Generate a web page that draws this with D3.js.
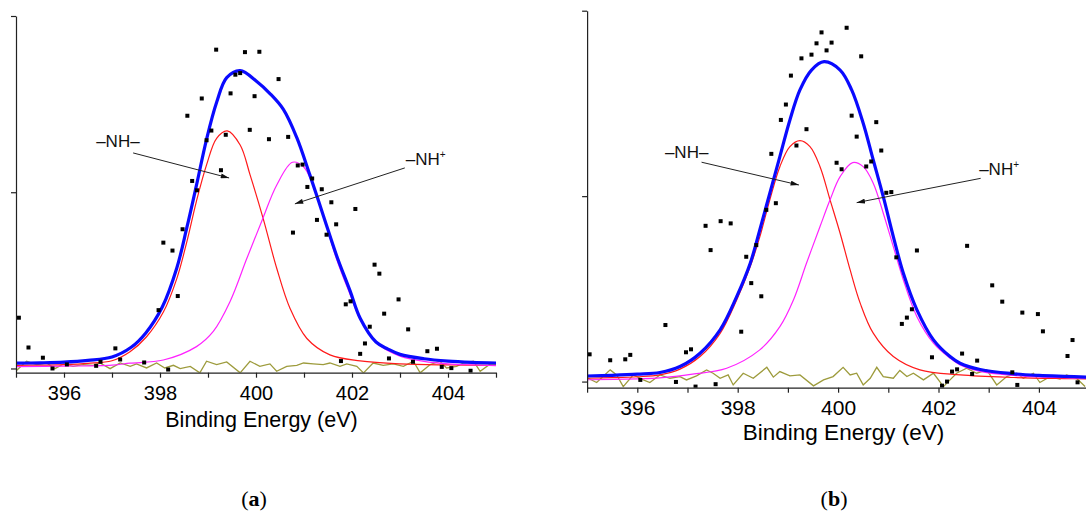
<!DOCTYPE html>
<html>
<head>
<meta charset="utf-8">
<script src="https://cdn.jsdelivr.net/npm/d3@7"></script>
<style>
  body { margin: 0; background: #fff; }
  svg { display: block; }
</style>
</head>
<body>
<script>
// N 1s spectra, [binding energy (eV), intensity (a.u.)]
// panel (a)
const aPoints = [[395.06,28.8],[395.26,11.9],[395.56,6.1],[395.76,0.0],[396.06,2.3],[396.67,1.5],[396.76,3.8],
  [397.07,11.4],[397.17,5.1],[397.67,3.4],[397.97,33.1],[398.07,71.4],[398.17,-0.6],[398.26,66.9],[398.37,41.1],
  [398.47,79.0],[398.57,143.4],[398.67,106.4],[398.77,101.1],[398.87,153.2],[398.97,129.5],[399.07,135.0],
  [399.17,180.9],[399.27,112.5],[399.37,132.6],[399.47,156.1],[399.57,166.7],[399.67,167.6],[399.77,179.5],
  [399.87,135.4],[399.97,154.5],[400.07,179.7],[400.27,130.1],[400.47,164.2],[400.67,131.4],[400.77,77.1],
  [400.87,115.2],[400.97,115.7],[401.07,103.0],[401.17,107.8],[401.27,84.3],[401.37,101.7],[401.47,75.9],
  [401.57,94.3],[401.67,81.8],[401.77,4.2],[401.87,36.4],[401.97,38.1],[402.07,90.5],[402.17,8.3],[402.27,14.2],
  [402.37,23.7],[402.47,58.9],[402.57,53.8],[402.67,31.1],[402.77,5.7],[402.97,39.2],[403.17,22.2],[403.27,3.8],
  [403.57,9.8],[403.77,11.2],[403.87,0.9],[404.07,0.2],[404.47,-1.3]];
const aTotal = [[395,3.0],[395.5,3.2],[396,3.6],[396.5,4.6],[397,6.5],[397.4,12],[397.7,20],[398.05,35],[398.35,57],
  [398.56,80],[398.76,104],[398.97,130],[399.18,151],[399.39,165],[399.67,169],[400.01,163],[400.29,156],
  [400.57,147],[400.85,131],[401.12,110],[401.4,87],[401.68,64],[401.96,44],[402.17,28.5],[402.5,15],[402.75,11],
  [403,8],[403.5,5.5],[404,4.2],[404.5,3.5],[405,3.1]];
const aNH = [[395,1.8],[395.5,1.9],[396,2.2],[396.5,2.9],[397,4.4],[397.375,9.5],[397.72,18],[398.07,32],
  [398.35,51],[398.56,72],[398.76,95],[398.97,115.5],[399.18,130.6],[399.4,134.8],[399.67,126.8],[399.875,110],
  [400.15,85],[400.43,57],[400.71,34],[401.06,17],[401.54,7.7],[402.17,4.3],[403,2.6],[404,2.0],[405,1.8]];
const aNHplus = [[395,1.0],[396,1.3],[397,1.9],[397.375,3.0],[398.07,4.8],[398.76,12.4],[399.11,21],[399.46,38],
  [399.81,62.5],[400.14,85],[400.43,104],[400.76,117],[400.99,114.5],[401.19,104],[401.4,87],[401.68,62],
  [401.96,42],[402.17,28],[402.5,15],[402.75,10],[403,7],[403.5,4],[404,2.6],[404.5,2.0],[405,1.6]];
const aResid = [[395.01,-1.2],[395.22,4.1],[395.43,2.2],[395.64,3.1],[395.81,-0.1],[395.99,2.6],[396.19,1.2],
  [396.40,2.2],[396.61,1.8],[396.75,3.1],[396.96,-0.1],[397.17,3.1],[397.38,1.2],[397.51,2.6],[397.72,0.3],
  [397.93,3.1],[398.10,0.3],[398.28,1.8],[398.42,-0.1],[398.63,1.2],[398.83,-2.5],[398.97,4.1],[399.18,2.2],
  [399.39,3.7],[399.67,-2.5],[399.875,4.1],[400.08,1.2],[400.29,2.6],[400.43,-1.6],[400.64,1.2],[400.85,1.8],
  [400.99,3.1],[401.19,2.6],[401.40,2.2],[401.54,3.1],[401.75,1.2],[401.89,2.6],[402.10,1.2],[402.24,-2.5],
  [402.44,3.1],[402.65,1.8],[402.86,2.6],[403.07,1.2],[403.28,4.1],[403.42,-2.5],[403.63,2.2],[403.83,4.1],
  [403.97,0.3],[404.18,1.2],[404.32,3.1],[404.53,4.1],[404.67,-1.6],[404.88,2.6],[405.08,2.2]];

// panel (b)
const bPoints = [[395.05,14.7],[395.46,11.5],[395.76,12.0],[395.86,14.4],[396.06,0.9],[396.56,30.5],[396.77,-0.2],
  [396.97,15.8],[397.07,17.4],[397.16,-2.7],[397.36,84.0],[397.46,70.9],[397.56,-1.4],[397.66,86.5],[397.86,85.3],
  [398.07,26.9],[398.17,67.3],[398.27,53.1],[398.37,73.6],[398.47,46.0],[398.57,92.6],[398.67,122.8],[398.76,96.2],
  [398.86,141.1],[398.96,149.4],[399.06,165.0],[399.17,127.3],[399.27,174.3],[399.37,136.1],[399.47,176.3],
  [399.57,182.4],[399.67,188.3],[399.77,178.6],[399.87,182.8],[399.97,118.0],[400.07,114.5],[400.17,190.8],
  [400.27,143.4],[400.37,132.1],[400.46,175.4],[400.56,116.0],[400.66,118.7],[400.76,139.9],[400.86,124.6],
  [400.96,101.8],[401.06,102.2],[401.16,67.0],[401.27,31.1],[401.37,34.5],[401.47,39.0],[401.57,70.7],
  [401.87,13.1],[402.07,-2.2],[402.17,0.0],[402.27,5.4],[402.37,6.6],[402.47,15.1],[402.57,73.2],[402.67,4.1],
  [402.77,11.3],[403.07,51.9],[403.27,43.1],[403.47,5.0],[403.57,-1.8],[403.67,37.2],[403.98,36.4],[404.08,27.1],
  [404.57,13.8],[404.67,22.4],[404.77,-0.4]];
const bTotal = [[395,3.0],[395.5,3.4],[396,4.0],[396.45,4.9],[396.85,8.1],[397.25,15.3],[397.65,27.9],[397.98,45.8],
  [398.25,63.8],[398.44,81.8],[398.64,101.6],[398.84,121.3],[399.04,141.1],[399.24,157.3],[399.47,168],
  [399.72,172.5],[400.04,168],[400.27,157.3],[400.5,139.3],[400.7,119.5],[400.9,99.7],[401.1,78.2],[401.3,58.4],
  [401.57,38.7],[401.9,22.5],[402.23,13.5],[402.43,9.9],[402.83,6.5],[403.5,4.2],[404,3.3],[404.5,2.8],[405,2.4]];
const bNH = [[395,1.8],[395.5,2.1],[396,2.6],[396.45,3.6],[396.85,6.7],[397.25,13.5],[397.65,26],[397.98,44],
  [398.25,62],[398.44,78],[398.64,98],[398.84,115.9],[399.04,126.7],[399.24,129.9],[399.44,126.7],[399.64,115.9],
  [399.84,98],[400.04,80],[400.24,60.2],[400.44,42.3],[400.7,26.1],[401.1,13.5],[401.63,6.3],[402.43,3.6],
  [403.5,2.2],[404.5,1.6],[405,1.4]];
const bNHplus = [[395,1.0],[396,1.5],[396.45,2.0],[397.1,4.0],[397.78,7.2],[398.44,17.1],[398.84,29.6],[399.11,44],
  [399.37,63.8],[399.64,83.6],[399.84,98],[400.04,110.5],[400.29,118.1],[400.5,115.9],[400.7,107],[400.9,90.8],
  [401.1,72.8],[401.3,54.8],[401.57,35],[401.9,20.7],[402.23,12.6],[402.43,9],[402.83,5.5],[403.5,3.3],
  [404,2.5],[405,1.8]];
const bResid = [[395.02,1.8],[395.19,-0.5],[395.46,6.3],[395.59,3.6],[395.72,-2.7],[395.92,3.6],[396.12,0.9],
  [396.25,-0.5],[396.45,3.6],[396.65,1.8],[396.85,2.7],[396.98,0.9],[397.18,3.1],[397.38,6.3],[397.51,4.5],
  [397.65,1.8],[397.81,3.6],[397.91,-1.8],[398.11,4.5],[398.31,1.8],[398.58,7.7],[398.71,2.4],[398.84,5.4],
  [399.04,3.1],[399.24,3.6],[399.51,-2.3],[399.71,0.9],[399.90,2.7],[400.10,7.7],[400.24,3.6],[400.37,4.5],
  [400.50,-1.8],[400.64,1.8],[400.77,7.7],[400.90,2.7],[401.10,1.8],[401.23,6.0],[401.37,2.7],[401.50,4.5],
  [401.70,0.9],[401.90,4.5],[402.10,-2.7],[402.23,0.9],[402.36,4.5],[402.56,7.2],[402.76,4.5],[402.96,6.3],
  [403.16,-1.8],[403.36,2.7],[403.56,4.5],[403.69,1.8],[403.89,4.5],[404.02,-0.5],[404.22,2.7],[404.42,1.3],
  [404.55,3.6],[404.75,1.8],[404.92,-2.7]];

const energyTicks = d3.range(395, 406, 1);
const intensityTicks = [0, 100, 200];

// annotation anchors in data units: label position, arrow start, arrow end
const aNotes = [
  { text: "–NH–", at: [396.67, 125.7], from: [397.44, 122.3], to: [399.44, 108.1] },
  { text: "–NH", sup: "+", at: [403.12, 115.5], from: [403.10, 113.8], to: [400.81, 93.4] }
];
const bNotes = [
  { text: "–NH–", at: [396.55, 120.6], from: [397.28, 118.3], to: [399.22, 106.0] },
  { text: "–NH", sup: "+", at: [402.81, 111.4], from: [402.84, 109.6], to: [400.37, 96.5] }
];

const width = 1086, height = 517;
const FONT = "'Liberation Sans', Arial, sans-serif";

const svg = d3.select("body").append("svg")
    .attr("width", width)
    .attr("height", height)
    .attr("viewBox", [0, 0, width, height]);

svg.append("defs").append("marker")
    .attr("id", "arrow")
    .attr("viewBox", "0 0 10 6")
    .attr("refX", 10).attr("refY", 3)
    .attr("markerWidth", 9).attr("markerHeight", 5)
    .attr("markerUnits", "userSpaceOnUse")
    .attr("orient", "auto")
  .append("path")
    .attr("d", "M0,0 L10,3 L0,6 Z")
    .attr("fill", "#111");

const drawPanel = (p) => {
  const x = d3.scaleLinear().domain([395, 405]).range([p.left, p.right]);
  const y = d3.scaleLinear().domain([p.yMin, 200]).range([p.bottom, p.top]);

  const g = svg.append("g");

  g.append("clipPath").attr("id", p.id + "clip")
    .append("rect")
      .attr("x", p.left).attr("y", 0)
      .attr("width", p.right - p.left).attr("height", p.bottom);

  const plot = g.append("g").attr("clip-path", `url(#${p.id}clip)`);

  const smooth = d3.line()
      .x(d => x(d[0]))
      .y(d => y(d[1]))
      .curve(d3.curveCatmullRom.alpha(0.5));

  const straight = d3.line()
      .x(d => x(d[0]))
      .y(d => y(d[1]));

  plot.append("path")
      .attr("d", straight(p.resid))
      .attr("fill", "none")
      .attr("stroke", "#9d9b3c")
      .attr("stroke-width", 1.3);

  plot.append("path")
      .attr("d", smooth(p.nh))
      .attr("fill", "none")
      .attr("stroke", "#ff1a1a")
      .attr("stroke-width", 1.2);

  plot.append("path")
      .attr("d", smooth(p.nhplus))
      .attr("fill", "none")
      .attr("stroke", "#ff22ff")
      .attr("stroke-width", 1.2);

  plot.append("path")
      .attr("d", smooth(p.total))
      .attr("fill", "none")
      .attr("stroke", "#0a0aff")
      .attr("stroke-width", 3.2);

  plot.selectAll("rect.pt")
    .data(p.points)
    .join("rect")
      .attr("class", "pt")
      .attr("x", d => x(d[0]) - 2)
      .attr("y", d => y(d[1]) - 2)
      .attr("width", 4)
      .attr("height", 4)
      .attr("fill", "#000");

  // axes
  const xAxis = g.append("g")
      .attr("transform", `translate(0,${p.bottom})`)
      .call(d3.axisBottom(x)
        .tickValues(energyTicks)
        .tickSize(5)
        .tickSizeOuter(0)
        .tickPadding(p.tickPad)
        .tickFormat(d => d % 2 === 0 ? d : ""));
  xAxis.selectAll("text")
      .attr("font-family", FONT)
      .attr("font-size", p.tickFont)
      .attr("fill", "#000");

  g.append("g")
      .attr("transform", `translate(${p.left},0)`)
      .call(d3.axisLeft(y)
        .tickValues(intensityTicks)
        .tickSize(5)
        .tickSizeOuter(0)
        .tickFormat(""));

  g.selectAll(".domain, .tick line")
      .attr("stroke", "#222")
      .attr("stroke-width", 1.2);

  g.append("text")
      .attr("x", p.titleX)
      .attr("y", p.titleY)
      .attr("text-anchor", "middle")
      .attr("font-family", FONT)
      .attr("font-size", p.titleFont)
      .attr("fill", "#000")
      .text("Binding Energy (eV)");

  // peak annotations
  p.notes.forEach(n => {
    g.append("line")
        .attr("x1", x(n.from[0])).attr("y1", y(n.from[1]))
        .attr("x2", x(n.to[0])).attr("y2", y(n.to[1]))
        .attr("stroke", "#222")
        .attr("stroke-width", 1)
        .attr("marker-end", "url(#arrow)");

    const t = g.append("text")
        .attr("x", x(n.at[0]))
        .attr("y", y(n.at[1]))
        .attr("font-family", FONT)
        .attr("font-size", 17)
        .attr("fill", "#111")
        .text(n.text);
    if (n.sup) {
      t.append("tspan")
          .attr("dy", -7)
          .attr("font-size", 10)
          .text(n.sup);
    }
  });

  svg.append("text")
      .attr("x", p.captionX)
      .attr("y", 506)
      .attr("text-anchor", "middle")
      .attr("font-family", "'Liberation Serif', 'Times New Roman', serif")
      .attr("font-size", 22)
      .attr("fill", "#000")
      .call(t => {
        t.append("tspan").text("(");
        t.append("tspan").attr("font-weight", "bold").text(p.caption);
        t.append("tspan").text(")");
      });
};

drawPanel({
  id: "a", left: 16, right: 496, top: 16, bottom: 372.7, yMin: -2.4,
  tickPad: 8, tickFont: 20, titleFont: 21.5, titleX: 261.5, titleY: 427,
  points: aPoints, total: aTotal, nh: aNH, nhplus: aNHplus, resid: aResid,
  notes: aNotes, caption: "a", captionX: 254
});

drawPanel({
  id: "b", left: 587.1, right: 1089.1, top: 10.7, bottom: 387.7, yMin: -3.3,
  tickPad: 7.4, tickFont: 21, titleFont: 22.5, titleX: 843.5, titleY: 440,
  points: bPoints, total: bTotal, nh: bNH, nhplus: bNHplus, resid: bResid,
  notes: bNotes, caption: "b", captionX: 834
});
</script>
</body>
</html>
